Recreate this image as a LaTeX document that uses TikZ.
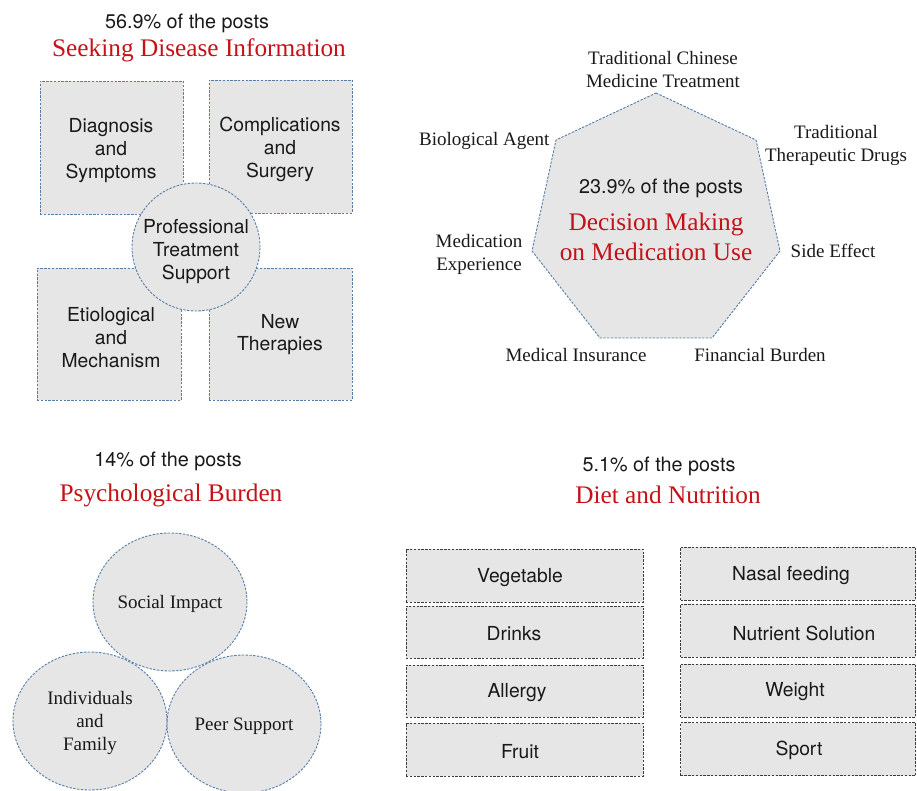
\documentclass[tikz,border=0pt]{standalone}
\usepackage{fontspec}
\setmainfont{Liberation Serif}
\newfontfamily\hv{TeX Gyre Heros}
\usetikzlibrary{shapes.geometric}
\definecolor{boxfill}{RGB}{230,230,230}
\definecolor{bluedash}{RGB}{88,124,168}
\definecolor{greydash}{RGB}{60,60,60}
\definecolor{titlered}{RGB}{196,18,24}
\tikzset{
  dashline/.style={line width=0.9pt, dash pattern=on 2.4pt off 1.4pt},
  bluebox/.style={draw=bluedash, fill=boxfill, dashline, inner sep=0pt},
  dietbox/.style={draw=greydash, fill=boxfill, dashline, inner sep=0pt, minimum height=53pt},
  dietlabel/.style={font=\hv\fontsize{19.3}{22}\selectfont, text=black!90},
  sanslabel/.style={font=\hv\fontsize{19.3}{22.7}\selectfont, align=center, text=black!90},
  seriflabel/.style={font=\fontsize{19}{23}\selectfont, align=center, text=black!90},
  share/.style={font=\hv\fontsize{19.8}{22}\selectfont, text=black!90},
  heading/.style={font=\fontsize{25.3}{30}\selectfont, text=titlered, align=center},
  bubble/.style={ellipse, fill=boxfill, minimum width=154pt, minimum height=138pt, inner sep=0pt}
}
\begin{document}
\begin{tikzpicture}[x=1pt, y=-1pt]
\useasboundingbox (0,0) rectangle (917,791);

% ---- Seeking Disease Information ----
\node[share] (shA) at (187,23.5) {56.9\% of the posts};
\node[heading] (hdA) at (199,50) {Seeking Disease Information};
\node[bluebox, minimum width=143pt, minimum height=133pt] (diag) at (111.5,147.5) {};
\node[bluebox, minimum width=143pt, minimum height=133pt] (comp) at (280.5,146.5) {};
\node[bluebox, minimum width=144pt, minimum height=132pt] (etio) at (109,334) {};
\node[bluebox, minimum width=143pt, minimum height=132pt] (newt) at (280.5,334) {};
\node[sanslabel] (diagT) at (111,150.5) {Diagnosis\\and\\Symptoms};
\node[sanslabel] (compT) at (280,149.5) {Complications\\and\\Surgery};
\node[sanslabel] (etioT) at (111,337.5) {Etiological\\and\\Mechanism};
\node[sanslabel] (newtT) at (280,334.5) {New\\Therapies};
\node[bluebox, circle, minimum size=128pt] (prof) at (196,247) {};
\node[sanslabel] (profT) at (196,251.5) {Professional\\Treatment\\Support};

% ---- Decision Making on Medication Use ----
\coordinate (h1) at (656,93);
\coordinate (h2) at (756,140);
\coordinate (h3) at (780,251);
\coordinate (h4) at (712,338);
\coordinate (h5) at (600,338);
\coordinate (h6) at (532,251);
\coordinate (h7) at (556,140);
\draw[draw=bluedash, fill=boxfill, dashline]
  (h1) -- (h2) -- (h3) -- (h4) -- (h5) -- (h6) -- (h7) -- cycle;
\node[share] (shB) at (661,188.5) {23.9\% of the posts};
\node[heading] (hdB) at (656,237) {Decision Making\\on Medication Use};
\node[seriflabel] (tcm) at (663,70) {Traditional Chinese\\Medicine Treatment};
\node[seriflabel, anchor=east] (bio) at (553,141) {Biological Agent};
\node[seriflabel] (ttd) at (836,145) {Traditional\\Therapeutic Drugs};
\node[seriflabel] (medx) at (479,254) {Medication\\Experience};
\node[seriflabel] (side) at (833,251) {Side Effect};
\node[seriflabel] (ins) at (576,355) {Medical Insurance};
\node[seriflabel] (fin) at (760,355) {Financial Burden};

% ---- Psychological Burden ----
\node[share] (shC) at (168,461) {14\% of the posts};
\node[heading] (hdC) at (171,495) {Psychological Burden};
\node[bubble] (soc) at (170,602) {};
\node[bubble] (ind) at (90,721) {};
\node[bubble] (peer) at (244,724) {};
\foreach \n in {soc,ind,peer}
  \draw[draw=bluedash, dashline] (\n.center) ellipse [x radius=77, y radius=69];
\node[seriflabel] (socT) at (170,604) {Social Impact};
\node[seriflabel] (indT) at (90,722.5) {Individuals\\and\\Family};
\node[seriflabel] (peerT) at (244,726) {Peer Support};

% ---- Diet and Nutrition ----
\node[share] (shD) at (659,466.5) {5.1\% of the posts};
\node[heading] (hdD) at (668,495) {Diet and Nutrition};
\node[dietbox, minimum width=237pt] (veg) at (524.5,575.5) {};
\node[dietbox, minimum width=237pt, minimum height=52pt] (drk) at (524.5,632) {};
\node[dietbox, minimum width=237pt, minimum height=52pt] (all) at (524.5,691) {};
\node[dietbox, minimum width=237pt] (frt) at (524.5,749.5) {};
\node[dietbox, minimum width=235pt] (nas) at (798,573.5) {};
\node[dietbox, minimum width=235pt] (nut) at (798,630.5) {};
\node[dietbox, minimum width=235pt] (wgt) at (798,690.5) {};
\node[dietbox, minimum width=235pt] (spt) at (798,749) {};
\node[dietlabel] (vegT) at (520,577.5) {Vegetable};
\node[dietlabel] (drkT) at (514,634) {Drinks};
\node[dietlabel] (allT) at (517,693) {Allergy};
\node[dietlabel] (frtT) at (520,751.5) {Fruit};
\node[dietlabel] (nasT) at (791,575.5) {Nasal feeding};
\node[dietlabel] (nutT) at (804,633) {Nutrient Solution};
\node[dietlabel] (wgtT) at (795,691.5) {Weight};
\node[dietlabel] (sptT) at (799,750.5) {Sport};
\end{tikzpicture}
\end{document}
